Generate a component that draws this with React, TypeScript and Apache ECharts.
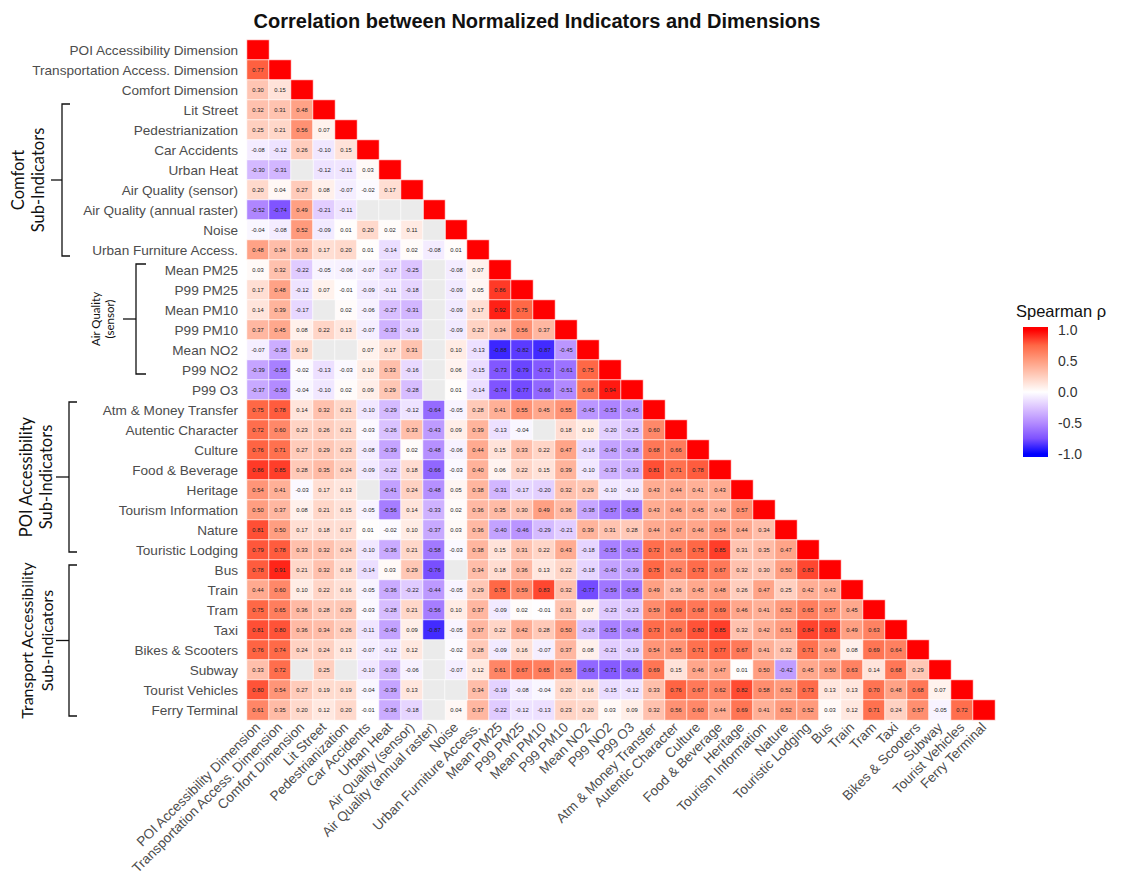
import React, { useEffect, useRef } from 'react';
import * as echarts from 'echarts';

const variables = [
  'POI Accessibility Dimension', 'Transportation Access. Dimension', 'Comfort Dimension',
  'Lit Street', 'Pedestrianization', 'Car Accidents', 'Urban Heat', 'Air Quality (sensor)',
  'Air Quality (annual raster)', 'Noise', 'Urban Furniture Access.',
  'Mean PM25', 'P99 PM25', 'Mean PM10', 'P99 PM10', 'Mean NO2', 'P99 NO2', 'P99 O3',
  'Atm & Money Transfer', 'Autentic Character', 'Culture', 'Food & Beverage', 'Heritage',
  'Tourism Information', 'Nature', 'Touristic Lodging',
  'Bus', 'Train', 'Tram', 'Taxi', 'Bikes & Scooters', 'Subway', 'Tourist Vehicles', 'Ferry Terminal',
];

const N = null;

// lower triangle: row i holds correlations with columns 0..i-1 (diagonal = 1)
const dimensionRows = [
  [],
  [0.77],
  [0.30, 0.15],
];

const comfortRows = [
  [0.32, 0.31, 0.48],
  [0.25, 0.21, 0.56, 0.07],
  [-0.08, -0.12, 0.26, -0.10, 0.15],
  [-0.30, -0.31, N, -0.12, -0.11, 0.03],
  [0.20, 0.04, 0.27, 0.08, -0.07, -0.02, 0.17],
  [-0.52, -0.74, 0.49, -0.21, -0.11, N, N, N],
  [-0.04, -0.08, 0.52, -0.09, 0.01, 0.20, 0.02, 0.11, N],
  [0.48, 0.34, 0.33, 0.17, 0.20, 0.01, -0.14, 0.02, -0.08, 0.01],
];

const airQualityRows = [
  [0.03, 0.32, -0.22, -0.05, -0.06, -0.07, -0.17, -0.25, N, -0.08, 0.07],
  [0.17, 0.48, -0.12, 0.07, -0.01, -0.09, -0.11, -0.18, N, -0.09, 0.05, 0.86],
  [0.14, 0.39, -0.17, N, 0.02, -0.06, -0.27, -0.31, N, -0.09, 0.17, 0.92, 0.75],
  [0.37, 0.45, 0.08, 0.22, 0.13, -0.07, -0.33, -0.19, N, -0.09, 0.23, 0.34, 0.56, 0.37],
  [-0.07, -0.35, 0.19, N, N, 0.07, 0.17, 0.31, N, 0.10, -0.13, -0.88, -0.82, -0.87, -0.45],
  [-0.39, -0.55, -0.02, -0.13, -0.03, 0.10, 0.33, -0.16, N, 0.06, -0.15, -0.73, -0.79, -0.72, -0.61, 0.75],
  [-0.37, -0.50, -0.04, -0.10, 0.02, 0.09, 0.29, -0.28, N, 0.01, -0.14, -0.74, -0.77, -0.66, -0.51, 0.68, 0.94],
];

const poiRows = [
  [0.75, 0.78, 0.14, 0.32, 0.21, -0.10, -0.29, -0.12, -0.64, -0.05, 0.28, 0.41, 0.55, 0.45, 0.55, -0.45, -0.53, -0.45],
  [0.72, 0.60, 0.23, 0.26, 0.21, -0.03, -0.26, 0.33, -0.43, 0.09, 0.39, -0.13, -0.04, N, 0.18, 0.10, -0.20, -0.25, 0.60],
  [0.76, 0.71, 0.27, 0.29, 0.23, -0.08, -0.39, 0.02, -0.48, -0.06, 0.44, 0.15, 0.33, 0.22, 0.47, -0.16, -0.40, -0.38, 0.68, 0.66],
  [0.86, 0.85, 0.28, 0.35, 0.24, -0.09, -0.22, 0.18, -0.66, -0.03, 0.40, 0.06, 0.22, 0.15, 0.39, -0.10, -0.33, -0.33, 0.81, 0.71, 0.78],
  [0.54, 0.41, -0.03, 0.17, 0.13, N, -0.41, 0.24, -0.48, 0.05, 0.38, -0.31, -0.17, -0.20, 0.32, 0.29, -0.10, -0.10, 0.43, 0.44, 0.41, 0.43],
  [0.50, 0.37, 0.08, 0.21, 0.15, -0.05, -0.56, 0.14, -0.33, 0.02, 0.36, 0.35, 0.30, 0.49, 0.36, -0.38, -0.57, -0.58, 0.43, 0.46, 0.45, 0.40, 0.57],
  [0.81, 0.50, 0.17, 0.18, 0.17, 0.01, -0.02, 0.10, -0.37, 0.03, 0.36, -0.40, -0.46, -0.29, -0.21, 0.39, 0.31, 0.28, 0.44, 0.47, 0.46, 0.54, 0.44, 0.34],
  [0.79, 0.78, 0.33, 0.32, 0.24, -0.10, -0.36, 0.21, -0.58, -0.03, 0.38, 0.15, 0.31, 0.22, 0.43, -0.18, -0.55, -0.52, 0.72, 0.65, 0.75, 0.85, 0.31, 0.35, 0.47],
];

const transportRows = [
  [0.78, 0.91, 0.21, 0.32, 0.18, -0.14, 0.03, 0.29, -0.76, N, 0.34, 0.18, 0.36, 0.13, 0.22, -0.18, -0.40, -0.39, 0.75, 0.62, 0.73, 0.67, 0.32, 0.30, 0.50, 0.83],
  [0.44, 0.60, 0.10, 0.22, 0.16, -0.05, -0.36, -0.22, -0.44, -0.05, 0.29, 0.75, 0.59, 0.83, 0.32, -0.77, -0.59, -0.58, 0.49, 0.36, 0.45, 0.48, 0.26, 0.47, 0.25, 0.42, 0.43],
  [0.75, 0.65, 0.36, 0.28, 0.29, -0.03, -0.28, 0.21, -0.56, 0.10, 0.37, -0.09, 0.02, -0.01, 0.31, 0.07, -0.23, -0.23, 0.59, 0.69, 0.68, 0.69, 0.46, 0.41, 0.52, 0.65, 0.57, 0.45],
  [0.81, 0.80, 0.36, 0.34, 0.26, -0.11, -0.40, 0.09, -0.87, -0.05, 0.37, 0.22, 0.42, 0.28, 0.50, -0.26, -0.55, -0.48, 0.73, 0.69, 0.80, 0.85, 0.32, 0.42, 0.51, 0.84, 0.83, 0.49, 0.63],
  [0.76, 0.74, 0.24, 0.24, 0.13, -0.07, -0.12, 0.12, N, -0.02, 0.28, -0.09, 0.16, -0.07, 0.37, 0.08, -0.21, -0.19, 0.54, 0.55, 0.71, 0.77, 0.67, 0.41, 0.32, 0.71, 0.49, 0.08, 0.69, 0.64],
  [0.33, 0.72, N, 0.25, N, -0.10, -0.30, -0.06, N, -0.07, 0.12, 0.61, 0.67, 0.65, 0.55, -0.66, -0.71, -0.66, 0.69, 0.15, 0.46, 0.47, 0.01, 0.50, -0.42, 0.45, 0.50, 0.63, 0.14, 0.68, 0.29],
  [0.80, 0.54, 0.27, 0.19, 0.19, -0.04, -0.39, 0.13, N, N, 0.34, -0.19, -0.08, -0.04, 0.20, 0.16, -0.15, -0.12, 0.33, 0.76, 0.67, 0.62, 0.82, 0.58, 0.52, 0.73, 0.13, 0.13, 0.70, 0.48, 0.68, 0.07],
  [0.61, 0.35, 0.20, 0.12, 0.20, -0.01, -0.36, -0.18, N, 0.04, 0.37, -0.22, -0.12, -0.13, 0.23, 0.20, 0.03, 0.09, 0.32, 0.56, 0.60, 0.44, 0.69, 0.41, 0.52, 0.52, 0.03, 0.12, 0.71, 0.24, 0.57, -0.05, 0.72],
];

const legendTicks = [-1, -0.5, 0, 0.5, 1];
// diverging blue-white-red (Lab interpolated like ggplot's gradient2)
const paletteStops = ['#0000FF', '#7E52FF', '#B38BFF', '#DCC4FF', '#FFFFFF', '#FFCFBF', '#FF9E81', '#FF6846', '#FF0000'];
const missingColor = '#ebebeb';

const groups = [
  { lines: ['Comfort', 'Sub-Indicators'], from: 3, to: 10, bx: 62, tx: [18, 38], fs: 16.5, tickR: 8, tickL: 11, padTop: 6, padBot: 6 },
  { lines: ['Air Quality', '(sensor)'], from: 11, to: 16, bx: 136, tx: [95, 109], fs: 11.5, tickR: 10, tickL: 13, padTop: 6, padBot: 4 },
  { lines: ['POI Accessibility', 'Sub-Indicators'], from: 18, to: 25, bx: 69, tx: [26, 46], fs: 16.5, tickR: 8, tickL: 13, padTop: 8, padBot: 2 },
  { lines: ['Transport Accessibility', 'Sub-Indicators'], from: 26, to: 33, bx: 69, tx: [26, 46], fs: 16, tickR: 8, tickL: 13, padTop: 5, padBot: 6 },
];

export default function App() {
  const ref = useRef<HTMLDivElement>(null);

  useEffect(() => {
    if (!ref.current) return;
    const chart = echarts.init(ref.current, undefined, { renderer: 'svg' });

    const allRows = [...dimensionRows, ...comfortRows, ...airQualityRows, ...poiRows, ...transportRows];
    const cells: any[] = [];
    const missing: any[] = [];
    allRows.forEach((row, i) => {
      row.forEach((v, j) => {
        if (v === null) missing.push([j, i, 0]);
        else cells.push([j, i, v]);
      });
      cells.push({ value: [i, i, 1], label: { show: false } });
    });

    const gridLeft = 247, gridTop = 40, gridW = 748, gridH = 680;
    const rowH = gridH / variables.length;
    const rowCenter = (r: number) => gridTop + rowH * r + rowH / 2;

    const graphics: any[] = [];
    groups.forEach((g) => {
      const top = rowCenter(g.from) - g.padTop;
      const bot = rowCenter(g.to) + g.padBot;
      const mid = (top + bot) / 2;
      graphics.push({
        type: 'polyline',
        shape: { points: [[g.bx + g.tickR, top], [g.bx, top], [g.bx, bot], [g.bx + g.tickR, bot]] },
        style: { stroke: '#111', lineWidth: 1.3, fill: null },
      });
      graphics.push({
        type: 'line',
        shape: { x1: g.bx - g.tickL, y1: mid, x2: g.bx, y2: mid },
        style: { stroke: '#111', lineWidth: 1.3 },
      });
      g.lines.forEach((t, k) => {
        graphics.push({
          type: 'text',
          x: g.tx[k],
          y: mid,
          rotation: Math.PI / 2,
          style: {
            text: t, fontSize: g.fs, fontFamily: 'Lato', fill: '#111',
            textAlign: 'center', textVerticalAlign: 'middle',
          },
        });
      });
    });

    // colour bar
    const barTop = 327, barH = 130, axTop = 330, axH = 124;
    const stops = paletteStops.map((c, k) => {
      const v = 1 - (2 * k) / (paletteStops.length - 1);
      const y = axTop + ((1 - v) / 2) * axH;
      return { offset: (y - barTop) / barH, color: paletteStops[paletteStops.length - 1 - k] };
    });
    graphics.push({
      type: 'rect',
      shape: { x: 1023, y: barTop, width: 25, height: barH },
      style: { fill: new echarts.graphic.LinearGradient(0, 0, 0, 1, stops) },
      z: 1,
    });
    graphics.push({
      type: 'text',
      x: 1016,
      y: 311,
      style: { text: 'Spearman \u03c1', fontSize: 16.5, fontFamily: 'Liberation Sans', fill: '#111', textVerticalAlign: 'middle' },
    });

    const axisLabelStyle = { fontSize: 13.6, color: '#4d4d4d', fontFamily: 'Liberation Sans' };

    chart.setOption({
      animation: false,
      backgroundColor: '#ffffff',
      title: {
        text: 'Correlation between Normalized Indicators and Dimensions',
        left: 532,
        top: 6,
        textAlign: 'center',
        textStyle: { fontSize: 20, fontWeight: 'bold', color: '#111', fontFamily: 'Liberation Sans' },
      },
      grid: [
        { left: gridLeft, top: gridTop, width: gridW, height: gridH },
        { left: 1023, top: axTop, width: 25, height: axH },
      ],
      xAxis: [
        {
          type: 'category', data: variables, gridIndex: 0,
          axisLine: { show: false }, axisTick: { show: false }, splitLine: { show: false },
          axisLabel: { ...axisLabelStyle, rotate: 45, interval: 0, margin: 5 },
        },
        { type: 'value', gridIndex: 1, show: false, min: 0, max: 1 },
      ],
      yAxis: [
        {
          type: 'category', data: variables, gridIndex: 0, inverse: true,
          axisLine: { show: false }, axisTick: { show: false }, splitLine: { show: false },
          axisLabel: { ...axisLabelStyle, interval: 0, margin: 9 },
        },
        {
          type: 'value', gridIndex: 1, min: -1, max: 1, interval: 0.5, position: 'right',
          axisLine: { show: false }, splitLine: { show: false },
          axisTick: { show: true, inside: true, length: 5, lineStyle: { color: '#ffffff', width: 1 } },
          axisLabel: {
            margin: 10, fontSize: 14, color: '#333', fontFamily: 'Liberation Sans',
            formatter: (v: number) => (legendTicks.includes(v) ? v.toFixed(1) : ''),
          },
          z: 5,
        },
      ],
      visualMap: [
        {
          show: false, type: 'continuous', min: -1, max: 1, dimension: 2, seriesIndex: 0,
          inRange: { color: paletteStops },
        },
        {
          show: false, type: 'continuous', min: 0, max: 1, dimension: 2, seriesIndex: 1,
          inRange: { color: [missingColor, missingColor] },
        },
      ],
      series: [
        {
          type: 'heatmap', xAxisIndex: 0, yAxisIndex: 0, data: cells,
          itemStyle: { borderColor: '#ffffff', borderWidth: 0.7 },
          label: {
            show: true, fontSize: 5.8, color: '#222', fontFamily: 'Liberation Sans',
            formatter: (p: any) => Number(p.value[2]).toFixed(2),
          },
          emphasis: { disabled: true },
        },
        {
          type: 'heatmap', xAxisIndex: 0, yAxisIndex: 0, data: missing,
          itemStyle: { borderColor: '#ffffff', borderWidth: 0.7 },
          label: { show: false },
          emphasis: { disabled: true },
        },
      ],
      graphic: graphics,
    });

    return () => chart.dispose();
  }, []);

  return (
    <div
      ref={ref}
      style={{ position: 'absolute', left: 0, top: 0, width: 1121, height: 884, background: '#fff' }}
    />
  );
}
